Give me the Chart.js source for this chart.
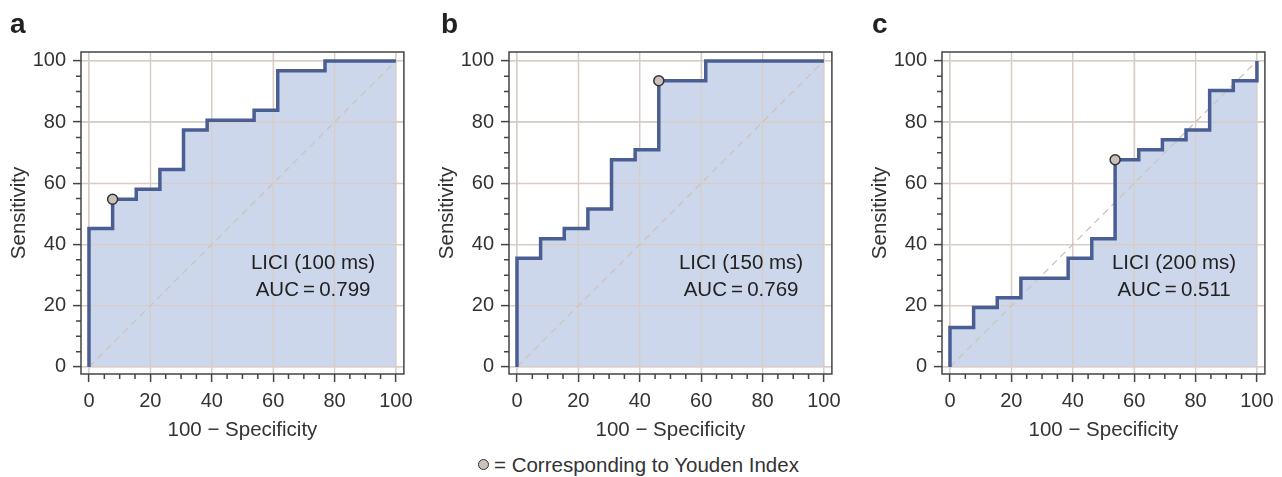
<!DOCTYPE html>
<html>
<head>
<title>ROC curves LICI</title>
<script src="https://cdn.jsdelivr.net/npm/chart.js"></script>
<style>
  body { margin: 0; background: #fff; font-family: "Liberation Sans", Arial, sans-serif; }
  #wrap { position: relative; width: 1282px; height: 477px; }
  canvas { position: absolute; top: 0; }
  .tag { position: absolute; top: 8px; font-weight: bold; font-size: 28px; color: #222; }
  #legend { position: absolute; left: 478px; top: 453px; font-size: 20.5px; color: #333; }
  #legend span { display: inline-block; width: 9px; height: 9px; border: 1.5px solid #333; border-radius: 50%; background: #c9c1ba; margin-right: 5px; vertical-align: 2px; }
</style>
</head>
<body>
<div id="wrap">
  <canvas id="chartA" width="420" height="450" style="left:0px"></canvas>
  <canvas id="chartB" width="420" height="450" style="left:428px"></canvas>
  <canvas id="chartC" width="420" height="450" style="left:861px"></canvas>
  <div class="tag" style="left:10px">a</div>
  <div class="tag" style="left:441px">b</div>
  <div class="tag" style="left:872px">c</div>
  <div id="legend"><span></span>= Corresponding to Youden Index</div>
</div>
<script>
// ROC corners (100 - specificity, sensitivity)
const fprA = [0, 0, 7.7, 7.7, 15.4, 15.4, 23.1, 23.1, 30.8, 30.8, 38.5, 38.5, 53.8, 53.8, 61.5, 61.5, 76.9, 76.9, 100];
const tprA = [0, 45.2, 45.2, 54.8, 54.8, 58.1, 58.1, 64.5, 64.5, 77.4, 77.4, 80.6, 80.6, 83.9, 83.9, 96.8, 96.8, 100, 100];

const fprB = [0, 0, 7.7, 7.7, 15.4, 15.4, 23.1, 23.1, 30.8, 30.8, 38.5, 38.5, 46.2, 46.2, 61.5, 61.5, 100];
const tprB = [0, 35.5, 35.5, 41.9, 41.9, 45.2, 45.2, 51.6, 51.6, 67.7, 67.7, 71.0, 71.0, 93.5, 93.5, 100, 100];

const fprC = [0, 0, 7.7, 7.7, 15.4, 15.4, 23.1, 23.1, 38.5, 38.5, 46.2, 46.2, 53.8, 53.8, 61.5, 61.5, 69.2, 69.2, 76.9, 76.9, 84.6, 84.6, 92.3, 92.3, 100, 100];
const tprC = [0, 12.9, 12.9, 19.4, 19.4, 22.6, 22.6, 29.0, 29.0, 35.5, 35.5, 41.9, 41.9, 67.7, 67.7, 71.0, 71.0, 74.2, 74.2, 77.4, 77.4, 90.3, 90.3, 93.5, 93.5, 100];

// Youden index points
const youdenA = [7.7, 54.8];
const youdenB = [46.2, 93.5];
const youdenC = [53.8, 67.7];

const labelsLICI = ['LICI (100 ms)', 'LICI (150 ms)', 'LICI (200 ms)'];
const aucValues = ['0.799', '0.769', '0.511'];

const majorTicks = [0, 20, 40, 60, 80, 100];
const minorTicks = [5, 10, 15, 25, 30, 35, 45, 50, 55, 65, 70, 75, 85, 90, 95];

const tickFont = { family: '"Liberation Sans", Arial, sans-serif', size: 20 };
const titleFont = { family: '"Liberation Sans", Arial, sans-serif', size: 20.5 };
const gridColor = '#d8ccc5';

// grid over the filled area, frame, minor ticks and the label text inside the plot
const extras = {
  id: 'extras',
  afterDatasetDraw(chart, args) {
    if (args.index !== 0) return;
    const ctx = chart.ctx;
    const a = chart.chartArea;
    const xs = chart.scales.x, ys = chart.scales.y;
    ctx.save();
    ctx.strokeStyle = gridColor;
    ctx.lineWidth = 1.2;
    ctx.beginPath();
    majorTicks.forEach(v => {
      const px = xs.getPixelForValue(v);
      ctx.moveTo(px, a.top);
      ctx.lineTo(px, a.bottom);
      const py = ys.getPixelForValue(v);
      ctx.moveTo(a.left, py);
      ctx.lineTo(a.right, py);
    });
    ctx.stroke();
    ctx.restore();
  },
  afterDraw(chart, args, opts) {
    const ctx = chart.ctx;
    const a = chart.chartArea;
    const xs = chart.scales.x, ys = chart.scales.y;
    ctx.save();
    ctx.strokeStyle = '#444';
    ctx.lineWidth = 1.5;
    ctx.strokeRect(a.left, a.top, a.right - a.left, a.bottom - a.top);
    ctx.beginPath();
    minorTicks.forEach(v => {
      const px = xs.getPixelForValue(v);
      ctx.moveTo(px, a.bottom);
      ctx.lineTo(px, a.bottom + 5);
      const py = ys.getPixelForValue(v);
      ctx.moveTo(a.left, py);
      ctx.lineTo(a.left - 5, py);
    });
    ctx.stroke();
    ctx.fillStyle = '#222';
    ctx.font = '20.5px "Liberation Sans", Arial, sans-serif';
    ctx.textAlign = 'center';
    ctx.textBaseline = 'middle';
    const cx = xs.getPixelForValue(73);
    ctx.fillText(opts.label, cx, ys.getPixelForValue(34));
    ctx.fillText('AUC\u2009=\u2009' + opts.auc, cx, ys.getPixelForValue(25));
    ctx.restore();
  }
};

function makeChart(id, fpr, tpr, youden, label, auc) {
  const ctx = document.getElementById(id).getContext('2d');
  const roc = fpr.map((v, i) => ({ x: v, y: tpr[i] }));
  new Chart(ctx, {
    type: 'scatter',
    data: {
      datasets: [
        {
          data: roc,
          showLine: true,
          borderWidth: 0,
          backgroundColor: '#cdd7eb',
          fill: 'origin',
          pointRadius: 0,
          order: 4
        },
        {
          data: [{ x: 0, y: 0 }, { x: 100, y: 100 }],
          showLine: true,
          borderColor: '#cfc3bb',
          borderWidth: 1.3,
          borderDash: [7, 5],
          pointRadius: 0,
          order: 3
        },
        {
          data: roc,
          showLine: true,
          borderColor: '#4a5e93',
          borderWidth: 3.5,
          pointRadius: 0,
          order: 2
        },
        {
          data: [{ x: youden[0], y: youden[1] }],
          pointRadius: 5,
          backgroundColor: '#c9c1ba',
          borderColor: '#333',
          borderWidth: 1.5,
          order: 1
        }
      ]
    },
    options: {
      responsive: false,
      animation: false,
      layout: { padding: { top: 52, right: 16, left: 0, bottom: 0 } },
      plugins: {
        legend: { display: false },
        tooltip: { enabled: false },
        extras: { label: label, auc: auc }
      },
      scales: {
        x: {
          type: 'linear',
          min: -2.6,
          max: 102.6,
          afterBuildTicks: s => { s.ticks = majorTicks.map(v => ({ value: v })); },
          afterFit: s => { s.height = 76; },
          border: { display: false },
          grid: { color: gridColor, lineWidth: 1.2, tickColor: '#444', tickLength: 8, tickWidth: 1.5 },
          ticks: { font: tickFont, color: '#333', padding: 7, maxRotation: 0 },
          title: { display: true, text: '100 \u2212 Specificity', font: titleFont, color: '#333', padding: { top: 7, bottom: 7 } }
        },
        y: {
          type: 'linear',
          min: -2.3,
          max: 102.9,
          afterBuildTicks: s => { s.ticks = majorTicks.map(v => ({ value: v })); },
          afterFit: s => { s.width = 81; },
          border: { display: false },
          grid: { color: gridColor, lineWidth: 1.2, tickColor: '#444', tickLength: 8, tickWidth: 1.5 },
          ticks: { font: tickFont, color: '#333', padding: 7 },
          title: { display: true, text: 'Sensitivity', font: titleFont, color: '#333', padding: { top: 7, bottom: 7 } }
        }
      }
    },
    plugins: [extras]
  });
}

makeChart('chartA', fprA, tprA, youdenA, labelsLICI[0], aucValues[0]);
makeChart('chartB', fprB, tprB, youdenB, labelsLICI[1], aucValues[1]);
makeChart('chartC', fprC, tprC, youdenC, labelsLICI[2], aucValues[2]);
</script>
</body>
</html>
